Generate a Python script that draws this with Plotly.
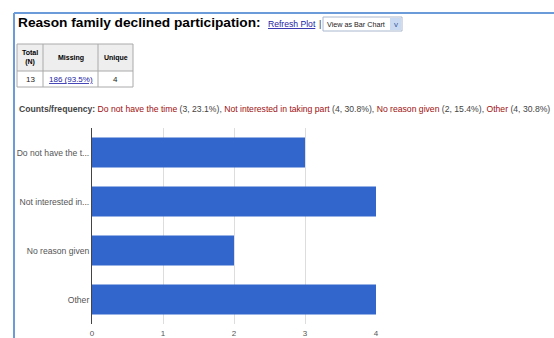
import plotly.graph_objects as go

# ---- data ----
categories = ["Do not have the time", "Not interested in taking part", "No reason given", "Other"]
tick_labels = ["Do not have the t...", "Not interested in...", "No reason given", "Other"]
counts = [3, 4, 2, 4]
total_n = 13
missing_n = 186
missing_pct = 93.5
unique_n = 4
x_ticks = [0, 1, 2, 3, 4]

W, H = 554, 338
L, R, T, B = 92, 376, 128, 324  # plot area in pixels

def px(x):
    return (x - L) / (R - L)

def py(y):
    return (B - y) / (B - T)

BAR = "#3366cc"
BORDER = "#6b9bd9"
FONT = "Liberation Sans, Arial, sans-serif"

fig = go.Figure(go.Bar(
    y=tick_labels, x=counts, orientation="h",
    marker=dict(color=BAR, line=dict(width=0)),
    width=0.61, hoverinfo="skip",
))

shapes = []
ann = []

def text(t, x, y, size, color, xanchor="left", family=FONT):
    ann.append(dict(text=t, x=px(x), y=py(y), xref="paper", yref="paper",
                    xanchor=xanchor, yanchor="middle", showarrow=False,
                    font=dict(family=family, size=size, color=color)))

def line(x0, y0, x1, y1, color, width=1):
    shapes.append(dict(type="line", xref="paper", yref="paper", x0=px(x0), x1=px(x1),
                       y0=py(y0), y1=py(y1), line=dict(color=color, width=width)))

def rect(x0, y0, x1, y1, fill, color=None, width=0):
    shapes.append(dict(type="rect", xref="paper", yref="paper", x0=px(x0), x1=px(x1),
                       y0=py(y0), y1=py(y1), fillcolor=fill,
                       line=dict(color=color or fill, width=width)))

# page frame lines
line(14, 13, 560, 13, BORDER, 2)
line(14, 13, 14, 340, BORDER, 2)

# title line
text("<b>Reason family declined participation:</b>", 16, 23, 13.7, "#000")
text("<u>Refresh Plot</u>", 266, 24, 8.6, "#1a1aa6")
text("|", 317, 24, 9, "#333")
rect(323, 17, 402, 31, "#ffffff", "#a9b8d0", 1)
rect(390, 18, 401, 30, "#c9d9f2")
text("View as Bar Chart", 325, 24, 7.2, "#222")
text("v", 395.5, 24, 8, "#3a5a9a", xanchor="center")

# summary table
cols = [17, 43, 98, 133]
rows = [44, 71, 87]
rect(cols[0], rows[0], cols[-1], rows[1], "#eeeeee")
for c in cols:
    line(c, rows[0], c, rows[-1], "#aaaaaa")
for r in rows:
    line(cols[0], r, cols[-1], r, "#aaaaaa")
headers = ["<b>Total<br>(N)</b>", "<b>Missing</b>", "<b>Unique</b>"]
values = [str(total_n), f"<u>{missing_n} ({missing_pct}%)</u>", str(unique_n)]
value_colors = ["#222", "#1a1aa6", "#222"]
for i in range(3):
    cx = (cols[i] + cols[i + 1]) / 2
    text(headers[i], cx, (rows[0] + rows[1]) / 2, 7, "#000", xanchor="center")
    text(values[i], cx, (rows[1] + rows[2]) / 2, 8, value_colors[i], xanchor="center")

# counts / frequency line
parts = []
for name, c in zip(categories, counts):
    pct = round(100 * c / total_n, 1)
    parts.append(f"<span style='color:#a01010'>{name}</span> ({c}, {pct}%)")
freq_text = "<b>Counts/frequency:</b> " + ", ".join(parts)
text(freq_text, 17, 109, 8.65, "#444")

fig.update_layout(
    width=W, height=H,
    margin=dict(l=L, r=W - R, t=T, b=H - B, autoexpand=False),
    paper_bgcolor="white", plot_bgcolor="white",
    showlegend=False,
    bargap=0.39,
    shapes=shapes, annotations=ann,
    xaxis=dict(range=[0, 4], tickvals=x_ticks, showgrid=True, gridcolor="#dddddd", gridwidth=1,
               zeroline=False, showline=False, ticks="", fixedrange=True,
               ticklabelstandoff=3,
               tickfont=dict(family=FONT, size=8, color="#555")),
    yaxis=dict(autorange="reversed", showgrid=False, zeroline=False, showline=True,
               linecolor="#444", linewidth=1, ticks="", ticklabelstandoff=0,
               tickfont=dict(family=FONT, size=8.6, color="#555"), fixedrange=True),
)

fig.write_html("out.html", config={"displayModeBar": False})
